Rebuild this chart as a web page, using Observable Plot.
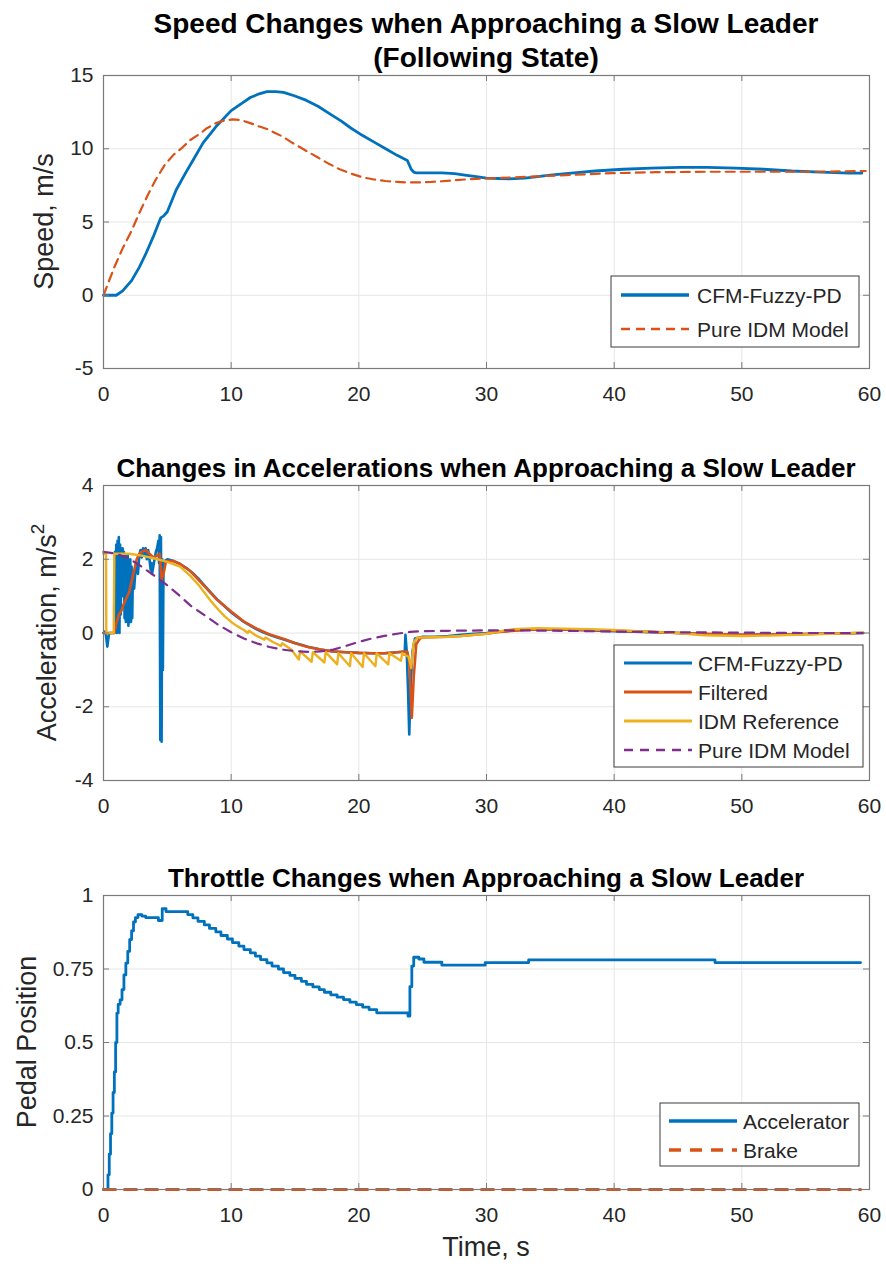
<!DOCTYPE html>
<html><head><meta charset="utf-8">
<script src="https://cdn.jsdelivr.net/npm/d3@7"></script>
<script src="https://cdn.jsdelivr.net/npm/@observablehq/plot@0.6"></script>
<style>
body{margin:0;background:#fff}
#wrap{width:886px}
#wrap svg{display:block}
</style>
</head><body><div id="wrap"></div>
<script>
// ---------------- DATA ----------------
const xTicks = [0, 10, 20, 30, 40, 50, 60];
const speedTicks = [-5, 0, 5, 10, 15];
const accelTicks = [-4, -2, 0, 2, 4];
const pedalTicks = [0, 0.25, 0.5, 0.75, 1];
const pedalTickLabels = ["0", "0.25", "0.5", "0.75", "1"];

const titles = {
  speed: ["Speed Changes when Approaching a Slow Leader", "(Following State)"],
  accel: "Changes in Accelerations when Approaching a Slow Leader",
  pedal: "Throttle Changes when Approaching a Slow Leader"
};
const speedLegend = ["CFM-Fuzzy-PD", "Pure IDM Model"];
const accelLegend = ["CFM-Fuzzy-PD", "Filtered", "IDM Reference", "Pure IDM Model"];
const pedalLegend = ["Accelerator", "Brake"];

// Speed panel
const speedFuzzyT = [0,1.0,1.5,2.2,2.8,3.3,3.9,4.4,4.5,4.7,5.0,5.7,6.4,7.0,7.8,8.8,10.0,11.0,11.5,12.2,12.8,13.5,14.1,15.0,15.9,16.8,17.7,18.6,19.4,20.3,21.2,22.1,23.0,23.8,23.9,24.1,24.3,24.5,25.5,26.5,27.5,28.3,29.2,30.0,31.0,31.8,33.0,34.0,35.0,36.2,37.5,38.5,40.7,42.9,45.1,47.3,49.5,51.7,53.9,56.2,58.4,59.4];
const speedFuzzyV = [0,0,0.3,1.0,1.9,2.8,4.0,5.1,5.3,5.4,5.7,7.2,8.3,9.2,10.4,11.5,12.6,13.2,13.5,13.75,13.9,13.9,13.85,13.6,13.3,12.9,12.4,11.9,11.4,10.9,10.45,10.0,9.55,9.2,9.0,8.6,8.4,8.35,8.35,8.35,8.3,8.2,8.1,8.0,7.97,7.95,8.0,8.1,8.2,8.3,8.4,8.48,8.6,8.68,8.73,8.73,8.68,8.6,8.48,8.4,8.33,8.33];
const speedIdmT = [0,0.4,0.84,1.5,2.2,2.8,3.5,4.1,4.8,5.5,6.2,6.8,7.5,8.1,8.8,9.4,10.1,10.8,11.5,12.1,12.8,13.4,14.1,14.7,15.4,16.1,16.8,17.6,18.5,19.4,20.3,21.2,22.1,23.0,23.8,24.7,25.6,26.5,27.4,28.3,29.2,30.9,33.6,36.2,39.8,43.3,47.3,51.7,56.2,59.7];
const speedIdmV = [0,0.9,1.9,3.2,4.4,5.6,6.9,7.9,8.9,9.6,10.1,10.6,11.0,11.4,11.75,11.92,12.0,11.95,11.75,11.55,11.35,11.1,10.8,10.45,10.1,9.75,9.4,9.0,8.6,8.3,8.05,7.9,7.8,7.74,7.7,7.7,7.73,7.78,7.84,7.9,7.95,8.0,8.1,8.2,8.33,8.4,8.43,8.43,8.43,8.48];

// Acceleration panel: [time, value]
const accFuzzy = [[0,0],[0.15,0.05],[0.3,-0.37],[0.42,-0.05],[0.5,0],[0.85,0],
[0.9,2.2],[0.95,0.1],[1.0,2.4],[1.05,0],[1.1,2.5],[1.15,0.3],[1.2,2.6],[1.25,0],[1.3,2.4],[1.35,0.5],[1.4,2.3],[1.45,1.0],[1.5,2.3],[1.55,1.2],[1.6,2.2],[1.65,0.4],[1.7,2.1],[1.75,0.3],[1.8,2.0],[1.85,0.5],[1.9,2.1],[1.95,0.2],[2.0,1.9],[2.05,0.3],[2.1,2.0],[2.15,0.3],[2.2,1.8],[2.25,0.4],[2.3,1.6],[2.4,1.2],[2.5,1.7],[2.6,1.9],[2.7,1.6],[2.8,2.1],[2.9,2.25],[3.0,2.05],[3.1,2.3],[3.2,2.1],[3.3,2.3],[3.4,2.0],[3.5,2.25],[3.6,2.0],[3.7,1.7],[3.75,1.9],[3.8,1.6],[3.9,1.8],[4.0,2.0],[4.1,2.2],[4.2,2.3],[4.3,2.5],[4.35,1.9],[4.4,2.65],[4.45,-2.9],[4.5,2.6],[4.55,-2.95],[4.6,2.0],[4.65,-1.0],[4.7,1.9],[4.8,1.95],[5.0,2.0],[5.5,1.95],[6,1.87],[6.5,1.76],[7,1.62],[7.5,1.45],[8,1.25],[8.5,1.06],[9,0.88],[9.5,0.72],[10,0.56],[10.5,0.43],[11,0.3],[11.5,0.2],[12,0.1],[12.5,0.02],[13,-0.05],[13.5,-0.11],[14,-0.16],[15,-0.27],[16,-0.37],[17,-0.45],[18,-0.5],[19,-0.52],[20,-0.54],[21,-0.55],[22,-0.55],[23,-0.52],[23.6,-0.5],[23.65,-0.05],[23.75,-0.5],[23.85,-1.5],[23.95,-2.75],[24.05,-1.5],[24.2,-0.5],[24.4,-0.15],[25,-0.1],[26,-0.1],[27,-0.08],[28,-0.05],[29,-0.02],[30,0],[31,0.04],[32,0.07],[33,0.09],[35,0.1],[37,0.08],[40,0.05],[43,0.02],[45,0],[47,-0.03],[50,-0.05],[53,-0.04],[56,-0.02],[59.5,0]];
const accFiltered = [[0,0],[0.85,0],[1.0,0.25],[1.2,0.5],[1.4,0.6],[1.6,0.8],[1.8,0.95],[2.0,1.1],[2.2,1.4],[2.4,1.7],[2.6,2.0],[2.8,2.15],[3.0,2.2],[3.3,2.25],[3.6,2.15],[3.9,2.05],[4.2,2.1],[4.4,2.15],[4.55,1.45],[4.7,1.6],[4.9,1.95],[5.5,1.95],[6,1.87],[6.8,1.68],[7.9,1.27],[8.9,0.9],[10,0.58],[11,0.31],[12.1,0.1],[13.1,-0.05],[14.2,-0.17],[15,-0.28],[16,-0.38],[17,-0.45],[18,-0.5],[19,-0.52],[20,-0.54],[21,-0.55],[22,-0.55],[23,-0.52],[23.8,-0.5],[23.95,-0.8],[24.15,-2.3],[24.3,-1.2],[24.5,-0.3],[24.8,-0.15],[25,-0.12],[27,-0.1],[28,-0.08],[30,-0.02],[31,0.03],[33,0.08],[35,0.1],[38,0.08],[40,0.06],[43,0.03],[45,0],[48,-0.03],[50,-0.05],[53,-0.04],[56,-0.02],[59.5,0]];
const accIdmRef = [[0,2.15],[0.2,2.15],[0.22,0],[0.8,0],[0.85,2.15],[2,2.15],[3,2.1],[4,2.02],[5,1.93],[6,1.8],[6.8,1.55],[7.5,1.28],[8,1.05],[8.5,0.83],[9,0.63],[9.5,0.45],[10,0.3],[10.5,0.18],[11,0.08],[11.3,0.0],[11.4,0.06],[12,-0.08],[12.6,-0.18],[12.7,-0.12],[13.3,-0.25],[13.9,-0.35],[14,-0.28],[14.7,-0.45],[15.3,-0.72],[15.4,-0.5],[16.3,-0.78],[16.4,-0.52],[17.3,-0.8],[17.4,-0.52],[18.3,-0.85],[18.4,-0.55],[19.3,-0.9],[19.4,-0.55],[20.3,-0.92],[20.4,-0.55],[21.3,-0.9],[21.4,-0.55],[22.3,-0.85],[22.4,-0.55],[23.3,-0.75],[23.4,-0.55],[23.9,-0.65],[24.1,-0.95],[24.3,-0.25],[24.6,-0.12],[25,-0.12],[27,-0.1],[28,-0.08],[30,-0.02],[31,0.04],[32,0.1],[34,0.13],[36,0.12],[38,0.1],[40,0.08],[43,0.03],[45,0],[47,-0.06],[50,-0.08],[52,-0.07],[55,-0.04],[57,-0.02],[59.5,0.01]];
const accPureIdm = [[0,2.2],[1,2.15],[2,2.02],[2.9,1.82],[4,1.55],[4.9,1.32],[6,1.0],[6.8,0.75],[8,0.46],[9,0.22],[10,0.02],[11,-0.15],[12,-0.28],[13,-0.38],[14,-0.45],[15,-0.49],[16,-0.51],[17,-0.5],[18,-0.45],[19,-0.35],[20,-0.24],[21,-0.15],[22,-0.08],[23,-0.02],[24,0.03],[25,0.05],[27,0.06],[30,0.07],[33,0.07],[36,0.06],[40,0.04],[45,0.02],[50,0.01],[55,0],[59.5,0]];

// Pedal panel: [time, value]
const pedalAccel = [[0,0],[0.35,0.05],[0.45,0.12],[0.55,0.19],[0.65,0.26],[0.75,0.33],[0.85,0.40],[0.95,0.50],[1.05,0.60],[1.15,0.63],[1.3,0.645],[1.45,0.68],[1.6,0.73],[1.75,0.77],[1.9,0.81],[2.05,0.85],[2.2,0.88],[2.35,0.91],[2.5,0.925],[2.7,0.935],[3.0,0.93],[3.3,0.925],[4.3,0.915],[4.6,0.955],[4.9,0.945],
[6.6,0.935],[7.0,0.924],[7.4,0.912],[7.9,0.900],[8.3,0.888],[8.8,0.876],[9.2,0.864],[9.7,0.852],[10.1,0.840],[10.6,0.828],[11.0,0.816],[11.5,0.805],[11.9,0.794],[12.3,0.782],[12.8,0.771],[13.2,0.760],[13.7,0.750],[14.1,0.738],[14.6,0.728],[15.0,0.718],[15.5,0.708],[15.9,0.698],[16.4,0.689],[16.9,0.680],[17.3,0.671],[17.8,0.662],[18.3,0.654],[18.8,0.646],[19.3,0.637],[19.8,0.629],[20.3,0.620],[20.8,0.612],[21.4,0.601],[23.85,0.59],[24.0,0.69],[24.15,0.76],[24.3,0.79],[24.7,0.784],[25.1,0.773],[26.5,0.763],[29.9,0.772],[33.3,0.781],[47.9,0.772],[59.3,0.772]];
const pedalBrake = [[0,0],[59.3,0]];

// ---------------- STYLE ----------------
const FONT = "'Liberation Sans', Arial, Helvetica, sans-serif";
const C = {blue: "#0072BD", orange: "#D95319", yellow: "#EDB120", purple: "#7E2F8E"};
const W = 886, ML = 103, MR = 17, MT = 75;
const FW = W - ML - MR;
const axisGray = "#7a7a7a", gridGray = "#e6e6e6", textCol = "#262626";

const toObj = (T, V) => T.map((t, i) => ({t, v: V[i]}));
const pairs = P => P.map(([t, v]) => ({t, v}));

function makePanel(cfg) {
  const FH = cfg.height - MT - cfg.mb;
  const plot = Plot.plot({
    width: W, height: cfg.height,
    marginLeft: ML, marginRight: MR, marginTop: MT, marginBottom: cfg.mb,
    style: {fontFamily: FONT, fontSize: "21px", color: textCol, background: "#fff", overflow: "visible"},
    x: {domain: [0, 60]},
    y: {domain: cfg.yDomain},
    marks: [
      Plot.gridX(xTicks, {stroke: gridGray, strokeOpacity: 1, strokeWidth: 1}),
      Plot.gridY(cfg.yTicks, {stroke: gridGray, strokeOpacity: 1, strokeWidth: 1}),
      ...cfg.lines.map(s => Plot.line(s.data, {x: "t", y: "v", stroke: s.color, strokeWidth: s.width, strokeDasharray: s.dash, curve: s.curve || "linear", strokeLinejoin: "round"})),
      Plot.ruleY(cfg.yTicks, {insetRight: FW - 6, stroke: axisGray}),
      Plot.ruleY(cfg.yTicks, {insetLeft: FW - 6, stroke: axisGray}),
      Plot.ruleX(xTicks, {insetTop: FH - 6, stroke: axisGray}),
      Plot.ruleX(xTicks, {insetBottom: FH - 6, stroke: axisGray}),
      Plot.frame({stroke: axisGray, strokeWidth: 1.2}),
      Plot.axisX(xTicks, {tickSize: 0, tickPadding: 18, label: null, tickFormat: d => String(d)}),
      Plot.axisY(cfg.yTicks, {tickSize: 0, tickPadding: 10, label: null, tickFormat: cfg.yFmt || (d => String(d))})
    ]
  });
  const svg = d3.select(plot);
  const cx = ML + FW / 2;
  // titles
  cfg.titles.forEach(tt => {
    svg.append("text").attr("x", cx).attr("y", tt.y)
      .attr("text-anchor", "middle").attr("dominant-baseline", "central")
      .style("font", `bold ${tt.size}px ${FONT}`).attr("fill", "#000").text(tt.text);
  });
  // y label
  const yl = svg.append("text")
    .attr("transform", `translate(${cfg.ylabel.x},${MT + FH / 2}) rotate(-90)`)
    .attr("text-anchor", "middle").attr("dominant-baseline", "central")
    .style("font", `27px ${FONT}`).attr("fill", textCol);
  yl.append("tspan").text(cfg.ylabel.text);
  if (cfg.ylabel.sup) yl.append("tspan").attr("dy", "-0.55em").style("font-size", "19px").text(cfg.ylabel.sup);
  // x label
  if (cfg.xlabel) {
    svg.append("text").attr("x", cx).attr("y", cfg.xlabel.y)
      .attr("text-anchor", "middle").attr("dominant-baseline", "central")
      .style("font", `27px ${FONT}`).attr("fill", textCol).text(cfg.xlabel.text);
  }
  // legend
  const L = cfg.legend;
  const g = svg.append("g").attr("text-anchor", "start");
  g.append("rect").attr("x", L.x0).attr("y", L.y0).attr("width", L.x1 - L.x0).attr("height", L.y1 - L.y0)
    .attr("fill", "#fff").attr("stroke", "#3a3a3a").attr("stroke-width", 1);
  L.items.forEach((it, i) => {
    const y = L.rows[i];
    const s = cfg.lines[it.series];
    g.append("line").attr("x1", L.lx0).attr("x2", L.lx1).attr("y1", y).attr("y2", y)
      .attr("stroke", s.color).attr("stroke-width", s.width + 0.5).attr("stroke-dasharray", s.dash || null);
    g.append("text").attr("x", L.tx).attr("y", y).attr("text-anchor", "start").attr("dominant-baseline", "central")
      .style("font", `21px ${FONT}`).attr("fill", textCol).text(it.label);
  });
  document.getElementById("wrap").appendChild(plot);
}

// Panel 1: speed
makePanel({
  height: 410, mb: 42, yDomain: [-5, 15], yTicks: speedTicks,
  lines: [
    {data: toObj(speedFuzzyT, speedFuzzyV), color: C.blue, width: 2.8},
    {data: toObj(speedIdmT, speedIdmV), color: C.orange, width: 2.2, dash: "9,6"}
  ],
  titles: [{text: titles.speed[0], y: 23, size: 28}, {text: titles.speed[1], y: 57, size: 28}],
  ylabel: {text: "Speed, m/s", x: 44},
  legend: {x0: 611, x1: 859, y0: 276, y1: 347, rows: [295, 329], lx0: 621, lx1: 689, tx: 697,
    items: [{series: 0, label: speedLegend[0]}, {series: 1, label: speedLegend[1]}]}
});

// Panel 2: acceleration
makePanel({
  height: 410, mb: 40, yDomain: [-4, 4], yTicks: accelTicks,
  lines: [
    {data: pairs(accFuzzy), color: C.blue, width: 2.6},
    {data: pairs(accFiltered), color: C.orange, width: 2.6},
    {data: pairs(accIdmRef), color: C.yellow, width: 2.4},
    {data: pairs(accPureIdm), color: C.purple, width: 2.2, dash: "9,7"}
  ],
  titles: [{text: titles.accel, y: 57.5, size: 26}],
  ylabel: {text: "Acceleration, m/s", sup: "2", x: 47},
  legend: {x0: 614, x1: 863, y0: 235, y1: 357, rows: [253, 282, 311, 340], lx0: 624, lx1: 692, tx: 698,
    items: accelLegend.map((label, i) => ({series: i, label}))}
});

// Panel 3: pedal
makePanel({
  height: 448, mb: 79, yDomain: [0, 1], yTicks: pedalTicks,
  yFmt: d => pedalTickLabels[pedalTicks.indexOf(d)],
  lines: [
    {data: pairs(pedalAccel), color: C.blue, width: 2.8, curve: "step-after"},
    {data: pairs(pedalBrake), color: C.orange, width: 3, dash: "12,9"}
  ],
  titles: [{text: titles.pedal, y: 57.6, size: 26}],
  ylabel: {text: "Pedal Position", x: 27},
  xlabel: {text: "Time, s", y: 427},
  legend: {x0: 660, x1: 859, y0: 283, y1: 346, rows: [301, 330], lx0: 669, lx1: 737, tx: 743,
    items: [{series: 0, label: pedalLegend[0]}, {series: 1, label: pedalLegend[1]}]}
});
</script></body></html>
